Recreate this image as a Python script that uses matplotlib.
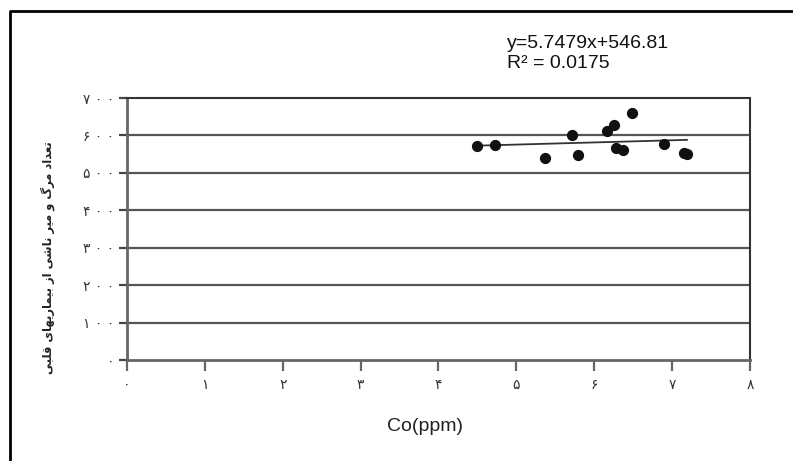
import matplotlib
matplotlib.use("Agg")
import matplotlib.pyplot as plt
from matplotlib.lines import Line2D

# data
co_ppm = [4.49, 4.73, 5.37, 5.71, 5.79, 6.17, 6.26, 6.28, 6.37, 6.49, 6.90, 7.15, 7.19]
deaths = [573, 574, 540, 601, 548, 612, 628, 567, 561, 661, 576, 554, 550]
slope, intercept = 5.7479, 546.81
r2 = 0.0175

x_ticks = [0, 1, 2, 3, 4, 5, 6, 7, 8]
y_ticks = [0, 100, 200, 300, 400, 500, 600, 700]
y_label = "تعداد مرگ و میر ناشی از بیماریهای قلبی"
x_label = "Co(ppm)"

# matplotlib does no arabic shaping, so do it by hand
FORMS = {
    'ا': ('\uFE8D', '\uFE8E', None, None),
    'ب': ('\uFE8F', '\uFE90', '\uFE91', '\uFE92'),
    'ت': ('\uFE95', '\uFE96', '\uFE97', '\uFE98'),
    'د': ('\uFEA9', '\uFEAA', None, None),
    'ر': ('\uFEAD', '\uFEAE', None, None),
    'ز': ('\uFEAF', '\uFEB0', None, None),
    'ش': ('\uFEB5', '\uFEB6', '\uFEB7', '\uFEB8'),
    'ع': ('\uFEC9', '\uFECA', '\uFECB', '\uFECC'),
    'ق': ('\uFED5', '\uFED6', '\uFED7', '\uFED8'),
    'ل': ('\uFEDD', '\uFEDE', '\uFEDF', '\uFEE0'),
    'م': ('\uFEE1', '\uFEE2', '\uFEE3', '\uFEE4'),
    'ن': ('\uFEE5', '\uFEE6', '\uFEE7', '\uFEE8'),
    'ه': ('\uFEE9', '\uFEEA', '\uFEEB', '\uFEEC'),
    'و': ('\uFEED', '\uFEEE', None, None),
    'ی': ('\uFBFC', '\uFBFD', '\uFBFE', '\uFBFF'),
    'گ': ('\uFB92', '\uFB93', '\uFB94', '\uFB95'),
}
NON_LEFT = set('ادرزو')


def shape(text):
    out = []
    for i, c in enumerate(text):
        if c not in FORMS:
            out.append(c)
            continue
        prev = text[i - 1] if i > 0 else None
        nxt = text[i + 1] if i + 1 < len(text) else None
        jp = prev in FORMS and prev not in NON_LEFT
        jn = nxt in FORMS and c not in NON_LEFT
        iso, fin, ini, med = FORMS[c]
        if jp and jn:
            out.append(med)
        elif jp:
            out.append(fin)
        elif jn:
            out.append(ini)
        else:
            out.append(iso)
    return ''.join(out)[::-1]


def fa_num(n):
    s = str(n).translate(str.maketrans('0123456789', '۰۱۲۳۴۵۶۷۸۹'))
    return ' '.join(s)


fig = plt.figure(figsize=(7.93, 4.61), dpi=100)
ax = fig.add_axes([127 / 793, 1 - 360 / 461, 623 / 793, 262 / 461])

for v in y_ticks[1:-1]:
    ax.axhline(v, color='#555555', lw=1.6, zorder=1)

ax.scatter(co_ppm, deaths, s=50, color='#111111', zorder=3)
xs = [min(co_ppm), max(co_ppm)]
ax.plot(xs, [slope * x + intercept for x in xs], color='#333333', lw=1.3, zorder=2)

ax.set_xlim(0, 8)
ax.set_ylim(0, 700)
ax.set_xticks(x_ticks)
ax.set_xticklabels([fa_num(v) for v in x_ticks], fontsize=10, color='#333333')
ax.set_yticks(y_ticks)
ax.set_yticklabels([fa_num(v) for v in y_ticks], fontsize=10, color='#333333')
ax.tick_params(axis='x', length=8, width=1.6, color='#666666', pad=5)
ax.tick_params(axis='y', length=6, width=1.6, color='#444444', pad=3)
for s in ax.spines.values():
    s.set_color('#333333')
    s.set_linewidth(1.5)
ax.spines['left'].set_color('#666666')
ax.spines['left'].set_linewidth(2)
ax.spines['bottom'].set_color('#666666')
ax.spines['bottom'].set_linewidth(2)

fig.text(425 / 793, 1 - 426 / 461, x_label, fontsize=14, family='Liberation Sans',
         ha='center', va='center', color='#222222')
fig.text(48 / 793, 1 - 258 / 461, shape(y_label), rotation=90, fontsize=8.3,
         fontweight='bold', ha='center', va='center', color='#222222')

fig.text(507 / 793, 1 - 44 / 461, "y=5.7479x+546.81", fontsize=14,
         family='Liberation Sans', va='center', color='#111111')
fig.text(507 / 793, 1 - 64 / 461, "R² = " + str(r2), fontsize=14,
         family='Liberation Sans', va='center', color='#111111')

# outer frame (left and top edges only visible)
fig.add_artist(Line2D([10 / 793, 10 / 793, 1], [0, 1 - 11 / 461, 1 - 11 / 461],
                      transform=fig.transFigure, color='black', lw=2))

fig.savefig("out.png", dpi=100)
